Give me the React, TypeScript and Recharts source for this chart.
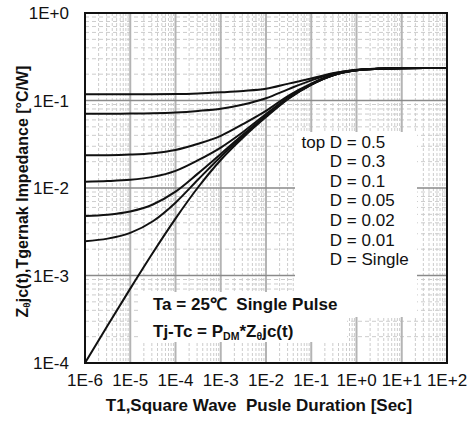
import { LineChart, Line, XAxis, YAxis, CartesianGrid } from 'recharts';

// pulse duration T1 [sec], half-decade steps
const pulseTime = [1e-6, 3.16e-6, 1e-5, 3.16e-5, 1e-4, 3.16e-4, 1e-3, 3.16e-3, 1e-2, 3.16e-2, 1e-1, 3.16e-1, 1, 3.16, 10, 31.6, 100];

// Zθjc(t) [°C/W] per duty cycle
const zD05 = [0.1176, 0.1176, 0.1177, 0.1179, 0.1185, 0.1205, 0.124, 0.1285, 0.136, 0.156, 0.178, 0.206, 0.225, 0.232, 0.2345, 0.235, 0.235];
const zD03 = [0.0706, 0.0707, 0.0709, 0.0715, 0.073, 0.076, 0.0805, 0.09, 0.106, 0.135, 0.17, 0.204, 0.223, 0.231, 0.234, 0.235, 0.235];
const zD01 = [0.0236, 0.0237, 0.0241, 0.025, 0.0272, 0.032, 0.0395, 0.054, 0.076, 0.114, 0.156, 0.198, 0.222, 0.23, 0.234, 0.235, 0.235];
const zD005 = [0.0118, 0.012, 0.0124, 0.0134, 0.0157, 0.0208, 0.029, 0.044, 0.07, 0.109, 0.154, 0.197, 0.222, 0.23, 0.234, 0.235, 0.235];
const zD002 = [0.0048, 0.00496, 0.00539, 0.00648, 0.00908, 0.0147, 0.0245, 0.041, 0.067, 0.107, 0.153, 0.196, 0.221, 0.23, 0.234, 0.235, 0.235];
const zD001 = [0.00247, 0.00264, 0.00307, 0.00417, 0.0068, 0.0125, 0.0228, 0.0395, 0.066, 0.106, 0.152, 0.195, 0.221, 0.23, 0.234, 0.235, 0.235];
const zSingle = [0.0001, 0.000269, 0.000708, 0.00182, 0.00447, 0.0102, 0.0209, 0.038, 0.0646, 0.105, 0.151, 0.195, 0.221, 0.23, 0.234, 0.235, 0.235];

const seriesKeys = ['d05', 'd03', 'd01', 'd005', 'd002', 'd001', 'single'];
const legendLabels = ['D = 0.5', 'D = 0.3', 'D = 0.1', 'D = 0.05', 'D = 0.02', 'D = 0.01', 'D = Single'];

const xDomain = [1e-6, 100];
const yDomain = [1e-4, 1];
const xTicks = [1e-6, 1e-5, 1e-4, 1e-3, 1e-2, 1e-1, 1, 10, 100];
const xTickLabels = ['1E-6', '1E-5', '1E-4', '1E-3', '1E-2', '1E-1', '1E+0', '1E+1', '1E+2'];
const yTicks = [1e-4, 1e-3, 1e-2, 1e-1, 1];
const yTickLabels = ['1E-4', '1E-3', '1E-2', '1E-1', '1E+0'];

// minor grid: 2..9 inside every decade
const minorX: number[] = [];
for (let e = -6; e < 2; e++) for (let m = 2; m <= 9; m++) minorX.push(m * Math.pow(10, e));
const minorY: number[] = [];
for (let e = -4; e < 0; e++) for (let m = 2; m <= 9; m++) minorY.push(m * Math.pow(10, e));

const data = pulseTime.map((t, i) => ({
    t,
    d05: zD05[i],
    d03: zD03[i],
    d01: zD01[i],
    d005: zD005[i],
    d002: zD002[i],
    d001: zD001[i],
    single: zSingle[i],
}));

// grid positions from the axis scale when available, otherwise from the plot offset
const logPos = (v: number, dom: number[], start: number, size: number) =>
    start + ((Math.log10(v) - Math.log10(dom[0])) / (Math.log10(dom[1]) - Math.log10(dom[0]))) * size;

const gridX = (vals: number[]) => (p: any) => {
    const s = p?.xAxis?.scale;
    if (typeof s === 'function') return vals.map((v) => s(v));
    if (s && typeof s.map === 'function') return vals.map((v) => s.map(v));
    const o = p?.offset ?? { left: 85, width: 362 };
    return vals.map((v) => logPos(v, xDomain, o.left, o.width));
};
const gridY = (vals: number[]) => (p: any) => {
    const s = p?.yAxis?.scale;
    if (typeof s === 'function') return vals.map((v) => s(v));
    if (s && typeof s.map === 'function') return vals.map((v) => s.map(v));
    const o = p?.offset ?? { top: 13, height: 350 };
    return vals.map((v) => o.top + o.height - logPos(v, yDomain, 0, o.height));
};

const font = '"Liberation Sans", Arial, sans-serif';
const sub = { fontSize: '0.62em', verticalAlign: '-0.28em', lineHeight: 0 };

const App = () => {
    return (
        <div style={{ position: 'absolute', left: 0, top: 0, width: 476, height: 421, background: '#fff', fontFamily: font, color: '#111' }}>
            <LineChart width={476} height={421} data={data} margin={{ top: 13, right: 29, bottom: 0, left: 0 }}>
                <CartesianGrid horizontal={false} stroke="#cccccc" strokeDasharray="3 2" verticalCoordinatesGenerator={gridX(minorX)} />
                <CartesianGrid vertical={false} stroke="#cccccc" strokeDasharray="4 3" horizontalCoordinatesGenerator={gridY(minorY)} />
                <CartesianGrid horizontal={false} stroke="#b4b4b4" strokeWidth={2} verticalCoordinatesGenerator={gridX(xTicks)} />
                <CartesianGrid vertical={false} stroke="#8a8a8a" strokeWidth={1.5} horizontalCoordinatesGenerator={gridY(yTicks)} />
                <XAxis
                    dataKey="t"
                    type="number"
                    scale="log"
                    domain={xDomain}
                    allowDataOverflow
                    ticks={xTicks}
                    interval={0}
                    tickFormatter={(_v: number, i: number) => xTickLabels[i]}
                    height={58}
                    axisLine={false}
                    tickLine={false}
                    tickSize={0}
                    tickMargin={11}
                    tick={{ fill: '#111', fontSize: 17, fontFamily: font }}
                />
                <YAxis
                    type="number"
                    scale="log"
                    domain={yDomain}
                    allowDataOverflow
                    ticks={yTicks}
                    interval={0}
                    tickFormatter={(_v: number, i: number) => yTickLabels[i]}
                    width={85}
                    axisLine={false}
                    tickLine={false}
                    tickSize={0}
                    tickMargin={16}
                    tick={{ fill: '#111', fontSize: 17, fontFamily: font }}
                />
                {seriesKeys.map((k) => (
                    <Line
                        key={k}
                        dataKey={k}
                        type="monotone"
                        stroke="#111"
                        strokeWidth={2}
                        dot={false}
                        isAnimationActive={false}
                    />
                ))}
            </LineChart>

            {/* plot frame */}
            <div style={{ position: 'absolute', left: 84, top: 12, width: 364, height: 352, border: '2px solid #111', boxSizing: 'border-box', pointerEvents: 'none' }} />

            {/* duty cycle labels */}
            <div style={{ position: 'absolute', left: 295, top: 132, width: 122, height: 185, background: '#fff' }} />
            <div style={{ position: 'absolute', left: 301.5, top: 132.7, fontSize: 17, lineHeight: '19.6px', whiteSpace: 'pre' }}>
                {legendLabels.map((l, i) => (
                    <div key={l}>
                        <span style={{ visibility: i === 0 ? 'visible' : 'hidden' }}>top </span>
                        {l}
                    </div>
                ))}
            </div>

            {/* test conditions */}
            <div style={{ position: 'absolute', left: 140, top: 292, width: 207, height: 50, background: '#fff' }} />
            <div style={{ position: 'absolute', left: 153, top: 291.9, fontSize: 17, fontWeight: 'bold', lineHeight: '26.7px', whiteSpace: 'pre' }}>
                <div>Ta = 25℃  Single Pulse</div>
                <div>
                    Tj-Tc = P<span style={sub}>DM</span>*Z<span style={sub}>θ</span>jc(t)
                </div>
            </div>

            {/* axis titles */}
            <div style={{ position: 'absolute', left: 259, top: 396.7, transform: 'translateX(-50%)', fontSize: 17, fontWeight: 'bold', lineHeight: '17px', whiteSpace: 'pre' }}>
                T1,Square Wave  Pusle Duration [Sec]
            </div>
            <div style={{ position: 'absolute', left: 21.5 - 160, top: 191 - 8.5, width: 320, height: 17, textAlign: 'center', transform: 'rotate(-90deg)', fontSize: 16, fontWeight: 'bold', lineHeight: '17px', whiteSpace: 'pre' }}>
                Z<span style={sub}>θ</span>jc(t),Tgernak Impedance [°C/W]
            </div>
        </div>
    );
};

export default App;
